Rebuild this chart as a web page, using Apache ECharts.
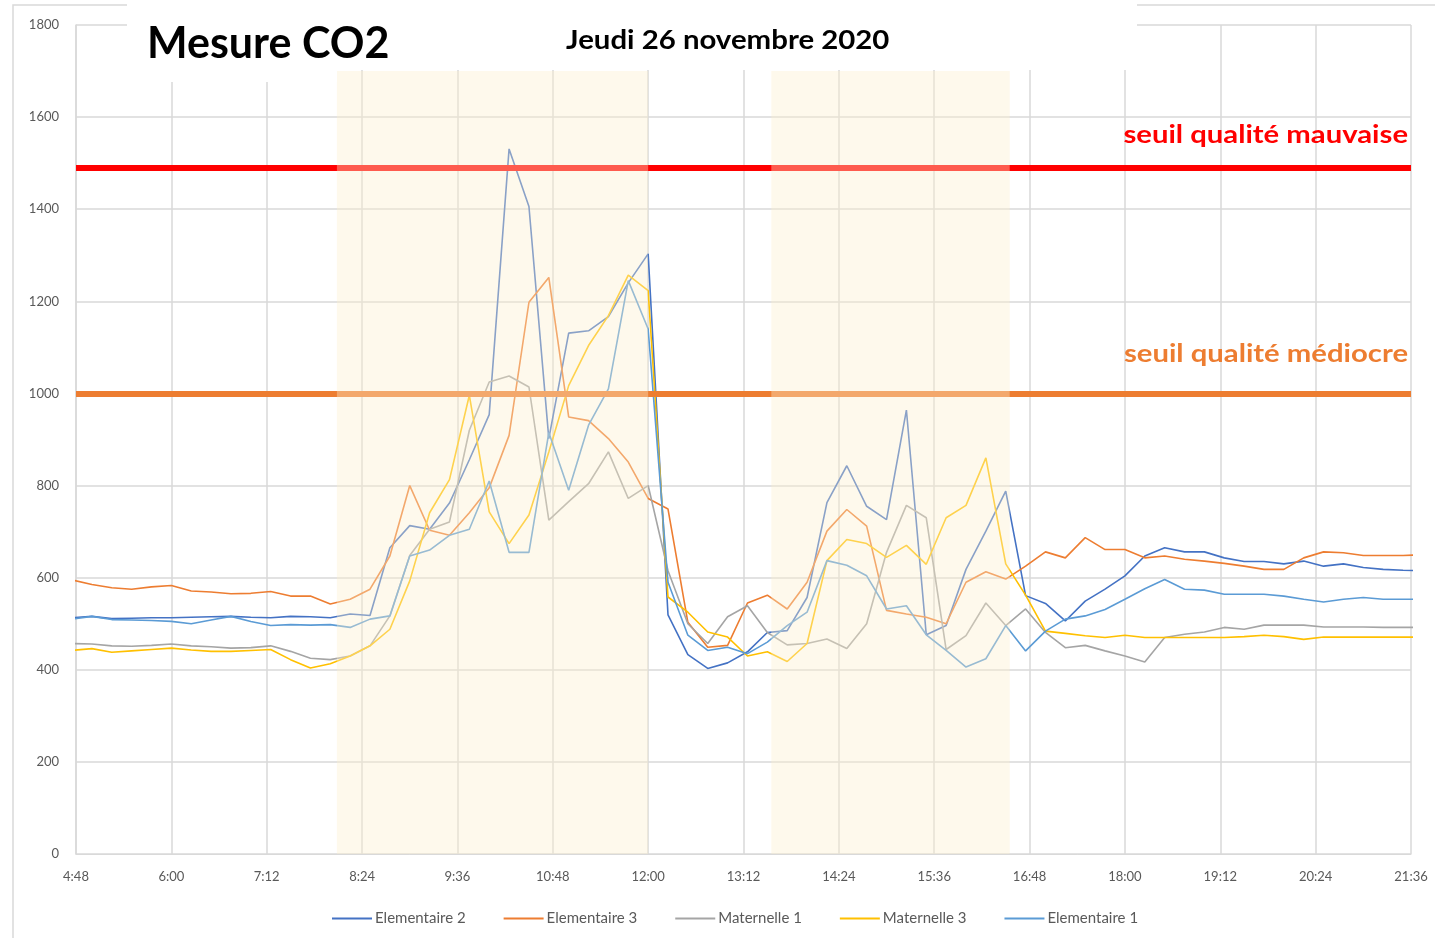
<!DOCTYPE html>
<html>
<head>
<meta charset="utf-8">
<title>Mesure CO2</title>
<script src="https://cdn.jsdelivr.net/npm/echarts@6/dist/echarts.min.js"></script>
<style>
    html, body { margin: 0; padding: 0; background: #ffffff; }
    #co2 { width: 1435px; height: 938px; }
</style>
</head>
<body>
<div id="co2"></div>
<script>
// heures de mesure (toutes les 15 min)
var heures = ['4:45','5:00','5:15','5:30','5:45','6:00','6:15','6:30','6:45','7:00',
    '7:15','7:30','7:45','8:00','8:15','8:30','8:45','9:00','9:15','9:30',
    '9:45','10:00','10:15','10:30','10:45','11:00','11:15','11:30','11:45','12:00',
    '12:15','12:30','12:45','13:00','13:15','13:30','13:45','14:00','14:15','14:30',
    '14:45','15:00','15:15','15:30','15:45','16:00','16:15','16:30','16:45','17:00',
    '17:15','17:30','17:45','18:00','18:15','18:30','18:45','19:00','19:15','19:30',
    '19:45','20:00','20:15','20:30','20:45','21:00','21:15','21:30','21:45'];

// CO2 en ppm
var elementaire2 = [513,516,511,512,513,513,514,515,516,514,
    513,516,515,513,521,518,665,713,705,762,
    856,954,1531,1406,902,1131,1136,1167,1240,1303,
    519,433,403,415,439,481,485,557,763,843,
    755,726,964,476,496,618,701,788,561,544,
    506,549,575,604,647,665,656,656,643,635,
    635,630,636,625,630,622,618,616,615];
var elementaire3 = [595,585,578,575,580,583,571,569,565,566,
    570,560,560,543,553,575,647,800,703,692,
    741,795,909,1198,1252,949,941,902,851,772,
    749,503,449,453,545,562,532,590,701,748,
    712,529,521,514,500,590,613,597,625,656,
    643,687,661,661,643,647,640,636,631,625,
    618,618,643,656,654,648,648,648,650];
var maternelle1 = [457,456,452,451,453,456,452,450,447,448,
    452,440,425,422,430,452,517,648,705,721,
    920,1025,1038,1014,725,765,804,873,772,800,
    615,500,457,515,539,481,454,457,467,446,
    500,655,757,730,444,474,545,496,532,481,
    448,453,441,430,417,470,477,482,492,488,
    497,497,497,493,493,493,492,492,492];
var maternelle3 = [442,446,438,441,444,447,443,440,440,442,
    444,422,404,413,430,452,488,593,741,813,
    996,743,674,736,873,1017,1104,1169,1257,1223,
    558,525,482,471,430,439,418,457,637,683,
    674,644,670,629,730,757,860,630,562,484,
    479,474,470,475,470,470,470,470,470,472,
    475,472,466,471,471,471,471,471,471];
var elementaire1 = [510,516,509,508,507,505,500,508,516,505,
    496,498,497,498,492,510,517,647,660,692,
    705,810,655,655,915,790,931,1010,1245,1140,
    590,475,442,449,435,460,496,525,637,627,
    604,532,539,476,442,406,424,496,441,484,
    510,517,531,553,576,596,575,573,564,564,
    564,560,553,547,553,557,553,553,553];

// seuils
var seuilMauvaise = 1490;
var seuilMediocre = 1000;

// plages de présence des élèves
var plages = [['8:05', '12:00'], ['13:33', '16:33']];

function enMinutes(h)
{
    var p = h.split(':');
    return parseInt(p[0], 10) * 60 + parseInt(p[1], 10);
}

function enHeure(v)
{
    var h = Math.floor(v / 60), m = Math.round(v % 60);
    return h + ':' + (m < 10 ? '0' : '') + m;
}

function paires(valeurs)
{
    return valeurs.map(function (v, i) { return [enMinutes(heures[i]), v]; });
}

var police = 'Lato, "Open Sans", sans-serif';

function courbe(nom, couleur, valeurs)
{
    return {
        name: nom,
        type: 'line',
        data: paires(valeurs),
        showSymbol: false,
        symbol: 'none',
        clip: true,
        z: 2,
        itemStyle: { color: couleur },
        lineStyle: { color: couleur, width: 1.6 }
    };
}

var myChart = echarts.init(document.getElementById('co2'));

myChart.setOption({
    animation: false,
    backgroundColor: '#ffffff',
    textStyle: { fontFamily: police },
    grid: { left: 76, right: 24, top: 25, bottom: 84 },
    legend: {
        data: ['Elementaire 2', 'Elementaire 3', 'Maternelle 1', 'Maternelle 3', 'Elementaire 1'],
        left: 327,
        top: 906,
        icon: 'rect',
        itemWidth: 40,
        itemHeight: 2,
        itemGap: 38,
        textStyle: { color: '#595959', fontSize: 15, fontFamily: police, padding: [0, 0, 0, -2] }
    },
    xAxis: {
        type: 'value',
        min: 288,
        max: 1296,
        interval: 72,
        axisLine: { show: true, lineStyle: { color: '#D9D9D9', width: 1 } },
        axisTick: { show: false },
        splitLine: { show: true, lineStyle: { color: '#D9D9D9', width: 1.5 } },
        axisLabel: {
            color: '#595959',
            fontSize: 13,
            margin: 16,
            showMinLabel: true,
            showMaxLabel: true,
            formatter: enHeure
        }
    },
    yAxis: {
        type: 'value',
        min: 0,
        max: 1800,
        interval: 200,
        axisLine: { show: true, lineStyle: { color: '#D9D9D9', width: 1.5 } },
        axisTick: { show: false },
        splitLine: { show: true, lineStyle: { color: '#D9D9D9', width: 1.5 } },
        axisLabel: {
            color: '#595959',
            fontSize: 13,
            margin: 17,
            formatter: function (v) { return String(v); }
        }
    },
    series: [
        courbe('Elementaire 2', '#4472C4', elementaire2),
        courbe('Elementaire 3', '#ED7D31', elementaire3),
        courbe('Maternelle 1', '#A5A5A5', maternelle1),
        courbe('Maternelle 3', '#FFC000', maternelle3),
        courbe('Elementaire 1', '#5B9BD5', elementaire1),
        //lignes de seuil
        {
            name: 'seuils',
            type: 'line',
            data: [],
            z: 3,
            markLine: {
                z: 3,
                silent: true,
                symbol: 'none',
                label: { show: false },
                data: [
                    { yAxis: seuilMauvaise, lineStyle: { color: '#FF0000', width: 6, type: 'solid' } },
                    { yAxis: seuilMediocre, lineStyle: { color: '#ED7D31', width: 6, type: 'solid' } }
                ]
            }
        },
        //plages colorées (voile au-dessus des courbes)
        {
            name: 'plages',
            type: 'line',
            data: [],
            z: 10,
            markArea: {
                z: 10,
                silent: true,
                itemStyle: { color: 'rgba(252,239,204,0.38)' },
                data: plages.map(function (p) {
                    return [{ xAxis: enMinutes(p[0]), yAxis: 0 }, { xAxis: enMinutes(p[1]), yAxis: 1700 }];
                })
            }
        }
    ],
    graphic: [
        //cadre
        { type: 'polyline', z: 1, shape: { points: [[13, 938], [13, 5], [127, 5]] }, style: { stroke: '#D9D9D9', lineWidth: 1.5, fill: null } },
        { type: 'line', z: 1, shape: { x1: 425, y1: 5, x2: 1435, y2: 5 }, style: { stroke: '#D9D9D9', lineWidth: 1.5 } },
        //zones de titre
        { type: 'rect', z: 50, shape: { x: 127, y: 0, width: 210, height: 82 }, style: { fill: '#ffffff' } },
        { type: 'rect', z: 50, shape: { x: 337, y: 0, width: 800, height: 70 }, style: { fill: '#ffffff' } },
        {
            type: 'text', z: 60, x: 147, y: 44,
            style: { text: 'Mesure CO2', fill: '#000000', font: 'bold 43px ' + police, textVerticalAlign: 'middle' }
        },
        {
            type: 'text', z: 60, x: 566, y: 41, scaleX: 1.13,
            style: { text: 'Jeudi 26 novembre 2020', fill: '#000000', font: 'bold 26px ' + police, textVerticalAlign: 'middle' }
        },
        {
            type: 'text', z: 60, x: 1408, y: 135, scaleX: 1.17,
            style: { text: 'seuil qualité mauvaise', fill: '#FF0000', font: 'bold 25px ' + police, textAlign: 'right', textVerticalAlign: 'middle' }
        },
        {
            type: 'text', z: 60, x: 1408, y: 354, scaleX: 1.17,
            style: { text: 'seuil qualité médiocre', fill: '#ED7D31', font: 'bold 25px ' + police, textAlign: 'right', textVerticalAlign: 'middle' }
        }
    ]
});
</script>
</body>
</html>
